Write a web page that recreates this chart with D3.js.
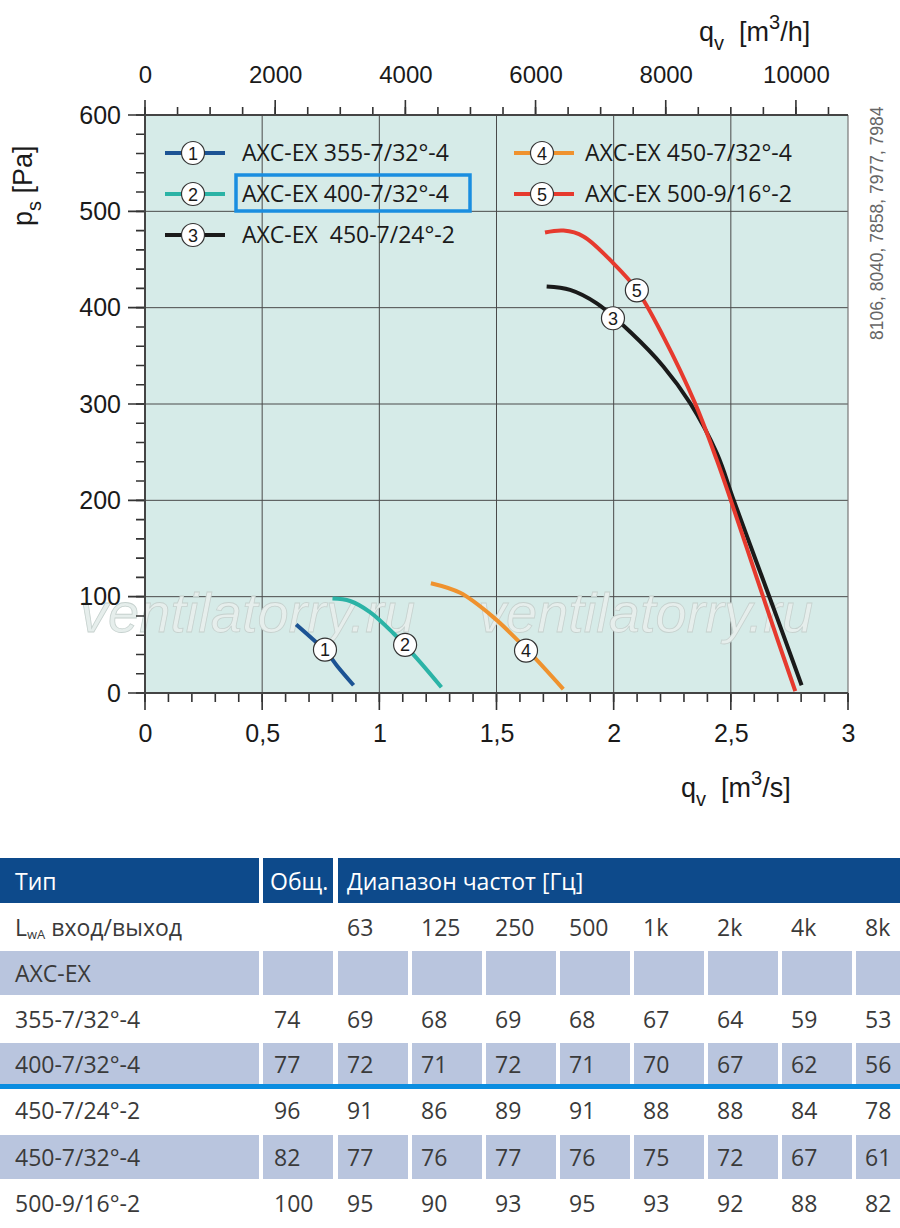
<!DOCTYPE html>
<html>
<head>
<meta charset="utf-8">
<script src="https://d3js.org/d3.v7.min.js"></script>
<style>
  body { margin: 0; background: #fff; }
</style>
</head>
<body>
<svg id="chart" width="900" height="1228"></svg>

<script type="text/javascript">
// fan curves: flow qv in m3/s, static pressure ps in Pa
const fanNames = ["AXC-EX 355-7/32°-4", "AXC-EX 400-7/32°-4", "AXC-EX  450-7/24°-2",
                  "AXC-EX 450-7/32°-4", "AXC-EX 500-9/16°-2"];
const fanColors = ["#1c5394", "#2bb3a6", "#1a1a1a", "#ef922e", "#e63a2e"];

const q1 = [0.645, 0.72, 0.77, 0.82, 0.89];
const p1 = [71, 55, 44, 28, 8];
const q2 = [0.80, 0.875, 0.96, 1.06, 1.16, 1.265];
const p2 = [98, 95.5, 84, 62, 36, 6];
const q3 = [1.714, 1.814, 1.928, 2.07, 2.212, 2.326, 2.44, 2.511, 2.611, 2.696, 2.802];
const p3 = [422, 418.5, 404.5, 375, 339, 301, 249, 201, 135, 79, 8];
const q4 = [1.22, 1.345, 1.485, 1.63, 1.785];
const p4 = [114, 104, 79, 45, 4];
const q5 = [1.707, 1.786, 1.871, 1.999, 2.099, 2.212, 2.347, 2.44, 2.50, 2.61, 2.70, 2.775];
const p5 = [478, 480, 474, 446, 418.5, 370, 301, 242, 200, 120, 55, 2];

// where the numbered circles sit on each curve
const labelQ = [0.768, 1.11, 1.997, 1.626, 2.099];
const labelP = [45, 50, 389, 44, 418];

const qTicks = [0, 0.5, 1, 1.5, 2, 2.5, 3];
const qhTicks = [0, 2000, 4000, 6000, 8000, 10000];
const pTicks = [0, 100, 200, 300, 400, 500, 600];

// sound power table
const tableTypes = ["355-7/32°-4", "400-7/32°-4", "450-7/24°-2", "450-7/32°-4", "500-9/16°-2"];
const freqBands = ["63", "125", "250", "500", "1k", "2k", "4k", "8k"];
const lwaTotal = [74, 77, 96, 82, 100];
const lwa355 = [69, 68, 69, 68, 67, 64, 59, 53];
const lwa400 = [72, 71, 72, 71, 70, 67, 62, 56];
const lwa450a = [91, 86, 89, 91, 88, 88, 84, 78];
const lwa450b = [77, 76, 77, 76, 75, 72, 67, 61];
const lwa500 = [95, 90, 93, 95, 93, 92, 88, 82];

const curves = [[q1, p1], [q2, p2], [q3, p3], [q4, p4], [q5, p5]];
const bandRows = [lwa355, lwa400, lwa450a, lwa450b, lwa500];

const svg = d3.select("#chart");
const axisFont = "'Liberation Sans', Arial, sans-serif";
const textFont = "'Open Sans', 'Noto Sans', sans-serif";

// scales
const x = d3.scaleLinear().domain([0, 3]).range([145, 848]);
const xh = d3.scaleLinear().domain([0, 3 * 3600]).range([145, 848]);
const y = d3.scaleLinear().domain([0, 600]).range([693, 115]);

// plot background
svg.append("rect")
    .attr("x", x(0)).attr("y", y(600))
    .attr("width", x(3) - x(0)).attr("height", y(0) - y(600))
    .attr("fill", "#d6ebe8");

// grid
svg.append("g").selectAll("line")
    .data(qTicks.slice(1, -1))
    .join("line")
    .attr("x1", d => x(d)).attr("x2", d => x(d))
    .attr("y1", y(600)).attr("y2", y(0))
    .attr("stroke", "#4a4a4a").attr("stroke-width", 1);
svg.append("g").selectAll("line")
    .data(pTicks.slice(1, -1))
    .join("line")
    .attr("x1", x(0)).attr("x2", x(3))
    .attr("y1", d => y(d)).attr("y2", d => y(d))
    .attr("stroke", "#4a4a4a").attr("stroke-width", 1);

// right border
svg.append("line")
    .attr("x1", x(3)).attr("x2", x(3)).attr("y1", y(600)).attr("y2", y(0))
    .attr("stroke", "#777").attr("stroke-width", 1.2);

// watermark
svg.append("g").selectAll("text")
    .data([80, 478])
    .join("text")
    .attr("x", d => d).attr("y", 632)
    .attr("font-family", axisFont).attr("font-style", "italic")
    .attr("font-size", 56)
    .attr("fill", "#e6eeec").attr("stroke", "#c6d1ce").attr("stroke-width", 0.8)
    .text("ventilatorry.ru");

// tick labels through d3 axes (lines removed, marks drawn at the end)
function styleAxis(g, size) {
  g.attr("font-family", axisFont).attr("font-size", size);
  g.selectAll("text").attr("fill", "#1a1a1a");
  g.selectAll(".tick line").remove();
  g.select(".domain").remove();
}

const fmt = d => String(d).replace(".", ",");

svg.append("g").attr("transform", `translate(0,${y(0)})`)
    .call(d3.axisBottom(x).tickValues(qTicks).tickSize(17).tickPadding(14).tickFormat(fmt))
    .call(g => styleAxis(g, 25));
svg.append("g").attr("transform", `translate(0,${y(600)})`)
    .call(d3.axisTop(xh).tickValues(qhTicks).tickSize(15).tickPadding(17)
          .tickFormat(d3.format("d")))
    .call(g => styleAxis(g, 24));
svg.append("g").attr("transform", `translate(${x(0)},0)`)
    .call(d3.axisLeft(y).tickValues(pTicks).tickSize(17).tickPadding(7))
    .call(g => styleAxis(g, 25));

// axis titles
function unitTitle(sel, sub, unit, tail) {
  sel.append("tspan").text("q");
  sel.append("tspan").attr("dy", 9).attr("font-size", 20).text(sub);
  sel.append("tspan").attr("dy", -9).text("\u00a0\u00a0[" + unit);
  sel.append("tspan").attr("dy", -12).attr("font-size", 20).text("3");
  sel.append("tspan").attr("dy", 12).text(tail);
}
svg.append("text")
    .attr("x", 699).attr("y", 41)
    .attr("font-family", axisFont).attr("font-size", 27).attr("fill", "#1a1a1a")
    .call(s => unitTitle(s, "v", "m", "/h]"));
svg.append("text")
    .attr("x", 681).attr("y", 797)
    .attr("font-family", axisFont).attr("font-size", 27).attr("fill", "#1a1a1a")
    .call(s => unitTitle(s, "v", "m", "/s]"));

const pTitle = svg.append("text")
    .attr("transform", "translate(32,226) rotate(-90)")
    .attr("font-family", axisFont).attr("font-size", 27).attr("fill", "#1a1a1a");
pTitle.append("tspan").text("p");
pTitle.append("tspan").attr("dy", 9).attr("font-size", 20).text("s");
pTitle.append("tspan").attr("dy", -9).text("\u00a0[Pa]");

// side note
svg.append("text")
    .attr("transform", "translate(883,340) rotate(-90)")
    .attr("font-family", axisFont).attr("font-size", 17.5).attr("fill", "#666")
    .text("8106, 8040, 7858, 7977, 7984");

// curves
const line = d3.line()
    .x(d => x(d[0])).y(d => y(d[1]))
    .curve(d3.curveCatmullRom.alpha(0.5));

svg.append("g").selectAll("path")
    .data(curves)
    .join("path")
    .attr("d", c => line(d3.zip(c[0], c[1])))
    .attr("fill", "none")
    .attr("stroke", (c, i) => fanColors[i])
    .attr("stroke-width", 4)
    .attr("stroke-linecap", "butt");

function badge(g, cx, cy, n) {
  g.append("circle").attr("cx", cx).attr("cy", cy).attr("r", 11.5)
      .attr("fill", "#fff").attr("stroke", "#333").attr("stroke-width", 1.2);
  g.append("text").attr("x", cx).attr("y", cy + 6.5)
      .attr("text-anchor", "middle")
      .attr("font-family", axisFont).attr("font-size", 18).attr("fill", "#1a1a1a")
      .text(n);
}

const badges = svg.append("g");
labelQ.forEach((q, i) => badge(badges, x(q), y(labelP[i]), i + 1));

// legend
const legend = svg.append("g");
fanNames.forEach((name, i) => {
  const col = i < 3 ? 0 : 1;
  const row = i < 3 ? i : i - 3;
  const lx = col === 0 ? 165 : 514;
  const ly = 153 + row * 41;
  legend.append("line")
      .attr("x1", lx).attr("x2", lx + 60).attr("y1", ly).attr("y2", ly)
      .attr("stroke", fanColors[i]).attr("stroke-width", 4);
  badge(legend, lx + 28, ly, i + 1);
  legend.append("text")
      .attr("x", col === 0 ? 242 : 585).attr("y", ly + 8)
      .attr("font-family", textFont).attr("font-size", 23).attr("fill", "#1a1a1a")
      .style("white-space", "pre")
      .text(name);
});
// highlighted model
legend.append("rect")
    .attr("x", 236).attr("y", 175).attr("width", 234).attr("height", 36)
    .attr("fill", "none").attr("stroke", "#1a8ee0").attr("stroke-width", 3.5);

// ---- table ----
const colX = [0, 263, 338, 412, 486, 560, 634, 708, 782, 856];
const colW = [259, 70, 70, 70, 70, 70, 70, 70, 70, 44];
const table = svg.append("g")
    .attr("font-family", textFont).attr("font-size", 23);

// header
const headBlue = "#0d4a8b";
[[0, 259], [263, 70], [338, 562]].forEach(([hx, hw]) => {
  table.append("rect").attr("x", hx).attr("y", 858).attr("width", hw).attr("height", 45)
      .attr("fill", headBlue);
});
[["Тип", 15], ["Общ.", 270], ["Диапазон частот [Гц]", 347]].forEach(([t, tx]) => {
  table.append("text").attr("x", tx).attr("y", 890)
      .attr("fill", "#fff").text(t);
});

const rowTop = [904, 950, 996, 1042, 1089, 1134, 1180];
const rowShade = [false, true, false, true, false, true, false];
const textCol = "#3a3a3a";

rowTop.forEach((top, r) => {
  if (rowShade[r]) {
    const h = r === 3 ? 42 : 44;
    colX.forEach((cx, c) => {
      table.append("rect").attr("x", cx).attr("y", top + 1)
          .attr("width", colW[c]).attr("height", h)
          .attr("fill", "#b9c5de");
    });
  }
});

// blue separator under highlighted model
table.append("rect").attr("x", 0).attr("y", 1084).attr("width", 900).attr("height", 5)
    .attr("fill", "#0b8de0");

// first row: band labels
const lwa = table.append("text").attr("x", 15).attr("y", 936).attr("fill", textCol);
lwa.append("tspan").text("L");
lwa.append("tspan").attr("font-size", 13).attr("dy", 3).text("wA");
lwa.append("tspan").attr("dy", -3).text(" вход/выход");
table.append("g").selectAll("text")
    .data(freqBands)
    .join("text")
    .attr("x", (d, i) => colX[i + 2] + 9).attr("y", 936)
    .attr("fill", textCol).text(d => d);

// group row
table.append("text").attr("x", 15).attr("y", 982).attr("fill", textCol).text("AXC-EX");

// model rows
const modelBase = [1028, 1073, 1119, 1166, 1212];
tableTypes.forEach((t, r) => {
  const by = modelBase[r];
  const cells = [t, lwaTotal[r]].concat(bandRows[r]);
  table.append("g").selectAll("text")
      .data(cells)
      .join("text")
      .attr("x", (d, i) => i === 0 ? 15 : colX[i] + (i === 1 ? 11 : 9))
      .attr("y", by)
      .attr("fill", textCol)
      .text(d => d);
});

// ---- tick marks and axis lines, drawn last as single paths ----
function tickPath(values, pos, vertical, base, len) {
  const p = d3.path();
  values.forEach(v => {
    const t = pos(v);
    if (vertical) { p.moveTo(t, base); p.lineTo(t, base + len); }
    else { p.moveTo(base, t); p.lineTo(base + len, t); }
  });
  return p.toString();
}
const tickSets = [
  tickPath(d3.range(0, 31).map(i => i / 10), x, true, y(0), 9),
  tickPath(qTicks, x, true, y(0), 17),
  tickPath(d3.range(0, 22).map(i => i * 500), xh, true, y(600), -8),
  tickPath(qhTicks, xh, true, y(600), -15),
  tickPath(d3.range(0, 31).map(i => i * 20), y, false, x(0), -9),
  tickPath(pTicks, y, false, x(0), -17)
];
svg.append("g").selectAll("path")
    .data(tickSets)
    .join("path")
    .attr("d", d => d)
    .attr("fill", "none")
    .attr("stroke", "#333").attr("stroke-width", 1.6);

const axisLines = d3.path();
axisLines.moveTo(x(0), y(600)); axisLines.lineTo(x(0), y(0)); axisLines.lineTo(x(3), y(0));
axisLines.moveTo(x(0), y(600)); axisLines.lineTo(x(3), y(600));
svg.append("path")
    .attr("d", axisLines.toString())
    .attr("fill", "none")
    .attr("stroke", "#444").attr("stroke-width", 2);
</script>
</body>
</html>
